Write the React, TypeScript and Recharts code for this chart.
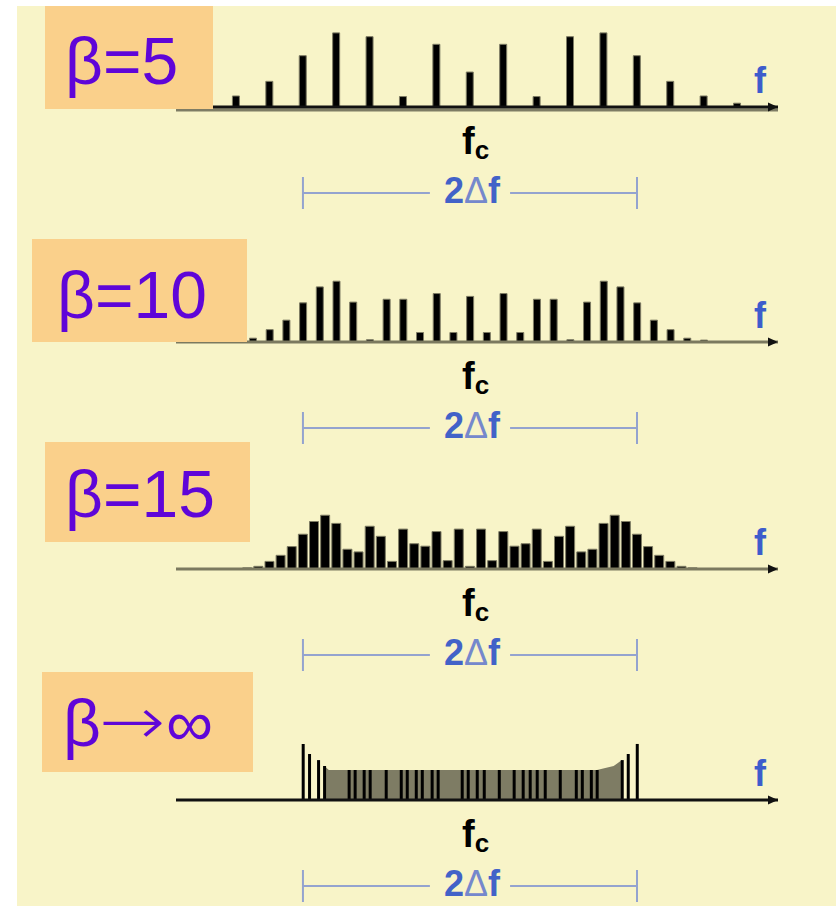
import React from "react";
import { ComposedChart, Bar, Area, XAxis, YAxis, ReferenceLine, ReferenceDot } from "recharts";

// sideband index n (offset from fc in multiples of fm) and line height
const beta5Sidebands = [-8, -7, -6, -5, -4, -3, -2, -1, 0, 1, 2, 3, 4, 5, 6, 7, 8];
const beta5Amps = [0.02, 0.058, 0.135, 0.27, 0.39, 0.37, 0.055, 0.33, 0.184, 0.33, 0.055, 0.37, 0.39, 0.27, 0.135, 0.058, 0.02];

const beta10Sidebands = [-14, -13, -12, -11, -10, -9, -8, -7, -6, -5, -4, -3, -2, -1, 0, 1, 2, 3, 4, 5, 6, 7, 8, 9, 10, 11, 12, 13, 14];
const beta10Amps = [
  0.01, 0.02, 0.065, 0.115, 0.206, 0.29, 0.32, 0.21, 0.012, 0.225, 0.225, 0.05, 0.255, 0.05, 0.24,
  0.05, 0.255, 0.05, 0.225, 0.225, 0.012, 0.21, 0.32, 0.29, 0.206, 0.115, 0.065, 0.02, 0.01,
];

const beta15Sidebands = [
  -20, -19, -18, -17, -16, -15, -14, -13, -12, -11, -10, -9, -8, -7, -6, -5, -4, -3, -2, -1, 0,
  1, 2, 3, 4, 5, 6, 7, 8, 9, 10, 11, 12, 13, 14, 15, 16, 17, 18, 19, 20,
];
const beta15Amps = [
  0.006, 0.014, 0.04, 0.072, 0.118, 0.183, 0.25, 0.283, 0.24, 0.104, 0.09, 0.225, 0.172, 0.04, 0.21, 0.133, 0.12, 0.197, 0.044, 0.21, 0.014,
  0.21, 0.044, 0.197, 0.12, 0.133, 0.21, 0.04, 0.172, 0.225, 0.09, 0.104, 0.24, 0.283, 0.25, 0.183, 0.118, 0.072, 0.04, 0.014, 0.006,
];

// β→∞: line positions in units of Δf, and the grey envelope under them
const infPositions = [
  -1.0, -0.962, -0.908, -0.872, -0.725, -0.689, -0.635, -0.599, -0.503, -0.413, -0.377, -0.323, -0.287, -0.228, -0.192,
  -0.048, -0.012, 0.042, 0.084, 0.174, 0.263, 0.317, 0.359, 0.401, 0.449, 0.539, 0.635, 0.671, 0.725, 0.76, 0.91, 0.946, 1.0,
];
const infAmps = [
  0.295, 0.242, 0.21, 0.179, 0.158, 0.158, 0.158, 0.158, 0.158, 0.158, 0.158, 0.158, 0.158, 0.158, 0.158,
  0.158, 0.158, 0.158, 0.158, 0.158, 0.158, 0.158, 0.158, 0.158, 0.158, 0.158, 0.158, 0.158, 0.158, 0.158, 0.21, 0.242, 0.295,
];
const infEnvelopePos = [-0.872, -0.845, 0.76, 0.86, 0.91];
const infEnvelope = [0.179, 0.158, 0.158, 0.179, 0.21];

const FONT = "'Liberation Sans', Arial, sans-serif";
const PLOT_LEFT = 176;
const PLOT_W = 602;
const PLOT_H = 208;
const UP = 88; // px above the baseline inside each chart
const PX = 190; // px per amplitude unit
const Y_DOMAIN = [-(PLOT_H - UP) / PX, UP / PX];
const X_LO = -1.76;
const X_HI = 1.844;
const DIM_PX = 86;

type Row = { n: number; a?: number; g?: number };

function buildRows(pos: number[], amps: number[], envPos: number[] = [], env: number[] = []) {
  const rows: Row[] = pos.map((n, i) => ({ n, a: amps[i] }));
  envPos.forEach((n, i) => {
    const hit = rows.find((r) => r.n === n);
    if (hit) hit.g = env[i];
    else rows.push({ n, g: env[i] });
  });
  return rows.sort((p, q) => p.n - q.n);
}

const panels = [
  { base: 107, scale: 5, rows: buildRows(beta5Sidebands, beta5Amps), barSize: 7, axis: "#111", shadow: true, barStroke: "#7e7c64" },
  { base: 342, scale: 10, rows: buildRows(beta10Sidebands, beta10Amps), barSize: 7, axis: "#7b795f", barStroke: "#7e7c64" },
  { base: 569, scale: 15, rows: buildRows(beta15Sidebands, beta15Amps), barSize: 9, axis: "#7b795f", barStroke: "#7e7c64" },
  {
    base: 800,
    scale: 1,
    rows: buildRows(infPositions, infAmps, infEnvelopePos, infEnvelope),
    barSize: 3,
    axis: "#111",
    envelope: true,
  },
];

const labels = [
  { box: [45, 6, 168, 103], text: "β=5", x: 65, y: 84 },
  { box: [32, 239, 215, 103], text: "β=10", x: 57, y: 318 },
  { box: [45, 442, 205, 100], text: "β=15", x: 65, y: 517 },
  { box: [42, 672, 211, 100], text: "", x: 63, y: 746 },
];

function Spectrum(props: any) {
  const { base, scale, rows, barSize, axis, shadow, barStroke, envelope } = props;
  const dimY = -DIM_PX / PX;
  const tickH = 16 / PX;
  const gap = 0.24 * scale;
  const blue = "#94a3cf";
  return (
    <div style={{ position: "absolute", left: PLOT_LEFT, top: base - UP }}>
      <ComposedChart width={PLOT_W} height={PLOT_H} data={rows} margin={{ top: 0, right: 0, bottom: 0, left: 0 }}>
        <XAxis type="number" dataKey="n" domain={[X_LO * scale, X_HI * scale]} hide allowDataOverflow />
        <YAxis type="number" domain={Y_DOMAIN} hide allowDataOverflow />
        {envelope && (
          <Area
            type="linear"
            dataKey="g"
            baseValue={0}
            connectNulls
            stroke="none"
            fill="#7e7c64"
            fillOpacity={1}
            isAnimationActive={false}
          />
        )}
        {shadow && <ReferenceLine y={-3 / PX} stroke="#7e7c64" strokeWidth={3} />}
        <ReferenceLine y={0} stroke={axis} strokeWidth={3} />
        <Bar
          dataKey="a"
          barSize={barSize}
          fill="#000"
          stroke={barStroke || "none"}
          strokeWidth={barStroke ? 1 : 0}
          isAnimationActive={false}
        />
        <ReferenceDot
          x={X_HI * scale}
          y={0}
          r={0}
          ifOverflow="visible"
          shape={(p: any) => (
            <path d={`M${p.cx},${p.cy} L${p.cx - 10},${p.cy - 4.5} L${p.cx - 10},${p.cy + 4.5} Z`} fill="#111" />
          )}
        />
        <ReferenceDot
          x={X_HI * scale}
          y={0}
          r={0}
          ifOverflow="visible"
          shape={(p: any) => (
            <text x={p.cx - 18} y={p.cy - 14} textAnchor="middle" fontFamily={FONT} fontWeight="bold" fontSize={36} fill="#3d5ccc">
              f
            </text>
          )}
        />
        <ReferenceDot
          x={0}
          y={0}
          r={0}
          ifOverflow="visible"
          shape={(p: any) => (
            <text x={p.cx - 8} y={p.cy + 47} fontFamily={FONT} fontWeight="bold" fontSize={38} fill="#000">
              f
              <tspan fontSize={26} dy={5}>
                c
              </tspan>
            </text>
          )}
        />
        <ReferenceLine segment={[{ x: -scale, y: dimY }, { x: -gap, y: dimY }]} stroke={blue} strokeWidth={2} ifOverflow="visible" />
        <ReferenceLine segment={[{ x: gap, y: dimY }, { x: scale, y: dimY }]} stroke={blue} strokeWidth={2} ifOverflow="visible" />
        <ReferenceLine segment={[{ x: -scale, y: dimY - tickH }, { x: -scale, y: dimY + tickH }]} stroke={blue} strokeWidth={2} ifOverflow="visible" />
        <ReferenceLine segment={[{ x: scale, y: dimY - tickH }, { x: scale, y: dimY + tickH }]} stroke={blue} strokeWidth={2} ifOverflow="visible" />
        <ReferenceDot
          x={0}
          y={dimY}
          r={0}
          ifOverflow="visible"
          shape={(p: any) => (
            <text x={p.cx + 2} y={p.cy + 10} textAnchor="middle" fontFamily={FONT} fontSize={36} fill="#4262c8">
              <tspan fontWeight="bold">2</tspan>
              <tspan fill="#7588cc">Δ</tspan>
              <tspan fontWeight="bold">f</tspan>
            </text>
          )}
        />
      </ComposedChart>
    </div>
  );
}

export default function App() {
  const purple = "#5f05d8";
  return (
    <div
      style={{
        position: "absolute",
        left: 0,
        top: 0,
        width: 840,
        height: 908,
        overflow: "hidden",
        background: "#fff",
        fontFamily: FONT,
      }}
    >
      <div style={{ position: "absolute", left: 17, top: 6, width: 819, height: 900, background: "#f8f4c8" }} />
      {panels.map((p) => (
        <Spectrum key={p.base} {...p} />
      ))}
      <svg style={{ position: "absolute", left: 0, top: 0 }} width={840} height={908}>
        {labels.map((l) => (
          <rect key={"b" + l.y} x={l.box[0]} y={l.box[1]} width={l.box[2]} height={l.box[3]} fill="#fad08b" />
        ))}
        {labels.slice(0, 3).map((l) => (
          <text key={"t" + l.y} x={l.x} y={l.y} fontFamily={FONT} fontSize={66} fill={purple}>
            {l.text}
          </text>
        ))}
        <text x={63} y={746} fontFamily={FONT} fontSize={66} fill={purple}>
          β
        </text>
        <text
          transform="translate(99 744) scale(1.2 1)"
          fontFamily="'DejaVu Sans', sans-serif"
          fontWeight={200}
          fontSize={66}
          fill={purple}
        >
          →
        </text>
        <text x={166} y={746} fontFamily={FONT} fontSize={66} fill={purple}>
          ∞
        </text>
      </svg>
    </div>
  );
}
